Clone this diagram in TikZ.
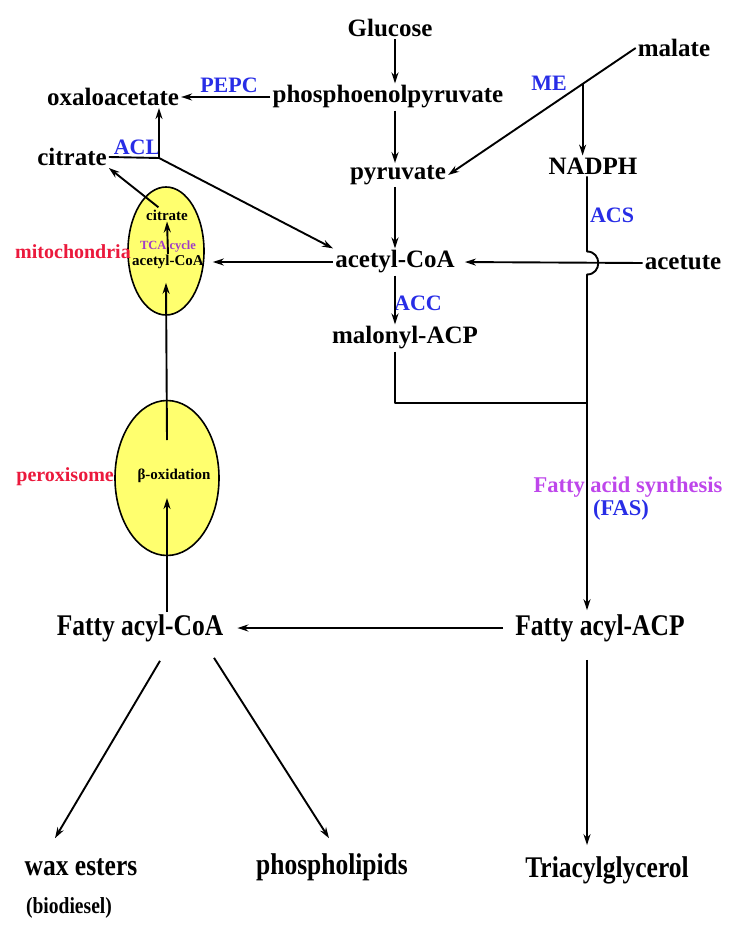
\documentclass[tikz,border=0pt]{standalone}
\usepackage{fontspec}
\setmainfont{Liberation Serif}
\newfontfamily\narrowserif[FakeStretch=0.85]{Liberation Serif}
\usetikzlibrary{shapes.geometric, arrows.meta, positioning, calc}
\definecolor{enzblue}{RGB}{40,45,230}
\definecolor{orgred}{RGB}{235,25,60}
\definecolor{fasviolet}{RGB}{190,70,235}
\definecolor{orgyellow}{RGB}{255,255,110}

\begin{document}
\begin{tikzpicture}[x=1pt, y=1pt, line join=round,
    met/.style={font=\bfseries\fontsize{25}{27}\selectfont, inner sep=2pt},
    metn/.style={font=\narrowserif\bfseries\fontsize{30}{32}\selectfont, inner sep=2pt},
    enz/.style={font=\bfseries\fontsize{22}{24}\selectfont, text=enzblue, inner sep=1pt},
    orgname/.style={font=\bfseries\fontsize{20}{22}\selectfont, text=orgred, inner sep=0pt, anchor=east},
    organelle/.style={ellipse, draw, line width=1.6pt, fill=orgyellow, inner sep=0pt},
    inmet/.style={font=\bfseries\fontsize{15}{17}\selectfont, inner sep=1pt},
    ln/.style={line width=1.9pt},
    arr/.style={ln, -{Stealth[length=11pt, width=7pt]}}]
    \useasboundingbox (0,0) rectangle (740,-939);
    % metabolites
    \node[met] (glucose) at (390,-28) {Glucose};
    \node[met] (pep) at (388,-97) {phosphoenolpyruvate};
    \node[met] (oaa) at (113,-97) {oxaloacetate};
    \node[met] (cit) at (72,-157) {citrate};
    \node[met] (malate) at (674,-48) {malate};
    \node[met] (pyr) at (398,-175) {pyruvate};
    \node[met] (nadph) at (593,-166) {NADPH};
    \node[met] (acoa) at (395,-262) {acetyl-CoA};
    \node[met] (acetute) at (683,-263) {acetute};
    \node[met] (malacp) at (405,-338) {malonyl-ACP};
    \node[metn] (facoa) at (140,-628) {Fatty acyl-CoA};
    \node[metn] (faacp) at (600,-628) {Fatty acyl-ACP};
    \node[metn] (wax) at (81,-867) {wax esters};
    \node[metn] (pl) at (332,-867) {phospholipids};
    \node[metn] (tag) at (607,-870) {Triacylglycerol};
    \node[font=\narrowserif\bfseries\fontsize{23}{25}\selectfont] (biod) at (69,-908) {(biodiesel)};
    % enzymes
    \foreach \name/\txt/\x/\y in {pepc/PEPC/229/-85, acl/ACL/137/-147, me/ME/549/-83,
        acs/ACS/612/-215, acc/ACC/418/-303} {
      \node[enz] (\name) at (\x,\y) {\txt};
    }
    \node[font=\bfseries\fontsize{22.5}{24}\selectfont, text=fasviolet] (fas) at (628,-487) {Fatty acid synthesis};
    \node[enz, font=\bfseries\fontsize{22.5}{24}\selectfont] (fasab) at (621,-510) {(FAS)};
    % organelles
    \node[organelle, minimum width=76pt, minimum height=128pt] (mito) at (166,-251) {};
    \node[orgname] (mitolbl) at (131,-252) {mitochondria};
    \node[inmet] (icit) at (167,-215) {citrate};
    \node[font=\bfseries\fontsize{12.5}{14}\selectfont, text=fasviolet!85!black, inner sep=1pt] (tca) at (168,-247) {TCA cycle};
    \node[inmet] (iacoa) at (168,-262) {acetyl-CoA};
    \node[organelle, minimum width=104pt, minimum height=155pt] (perox) at (167,-478) {};
    \node[orgname] (peroxlbl) at (114,-477) {peroxisome};
    \node[inmet] (beta) at (174,-476) {β-oxidation};
    % junctions
    \coordinate (aclJ) at (159,-158);
    \coordinate (meJ) at ($(malate.west)!0.283!(pyr.east)$);
    \coordinate (fasJ) at (587,-403);
    \coordinate (hop) at (fasJ |- acetute.west);
    % glycolysis
    \draw[arr] (glucose.south -| acoa) -- (pep.north -| acoa);
    \draw[arr] (pep.west) -- (oaa.east);
    \draw[arr] (pep.south -| acoa) -- (pyr.north -| acoa);
    \draw[arr] (pyr.south -| acoa) -- (acoa.north);
    \draw[arr] (malate.west) -- (pyr.east);
    \draw[arr] (meJ) -- (meJ |- nadph.north);
    \draw[arr, shorten >=8pt] (acetute.west) -- (acoa.east);
    \draw[arr] (acoa.south) -- (malacp.north -| acoa);
    % citrate shuttle
    \draw[ln] (cit.east) -- (aclJ);
    \draw[arr] (aclJ) -- (aclJ |- oaa.south);
    \draw[arr] (aclJ) -- (acoa.north west);
    \draw[arr, shorten >=8pt] (acoa.west) -- (mito.east |- acoa.west);
    \draw[arr] (iacoa.north) -- (icit.south);
    \draw[arr, shorten <=2pt] ($(icit.north)+(-7,0)$) -- (cit.south east);
    % fatty acid synthesis
    \draw[ln] (fasJ |- nadph.south) -- ($(hop)+(0,11.5)$)
      .. controls ($(hop)+(15,11.5)$) and ($(hop)+(15,-11.5)$) .. ($(hop)+(0,-11.5)$) -- (fasJ);
    \draw[ln] (malacp.south -| acoa) -- (acoa |- fasJ) -- (fasJ);
    \draw[arr, shorten >=2pt] (fasJ) -- (fasJ |- faacp.north);
    \draw[arr, shorten <=10pt, shorten >=12pt] (faacp.west) -- (facoa.east);
    \draw[arr, shorten <=16pt, shorten >=9pt] (fasJ |- faacp.south) -- (fasJ |- tag.north);
    % degradation and products
    \draw[arr] ($(perox.center)+(0,38)$) -- ($(mito.south)+(0,33)$);
    \draw[arr] (facoa.north -| perox) -- ($(perox.center)+(0,-20)$);
    \draw[arr] ($(facoa.south)+(20,-17)$) -- ($(wax.north)+(-26,18)$);
    \draw[arr] ($(facoa.south)+(74,-14)$) -- ($(pl.north)+(-3,13)$);
  \end{tikzpicture}
\end{document}
